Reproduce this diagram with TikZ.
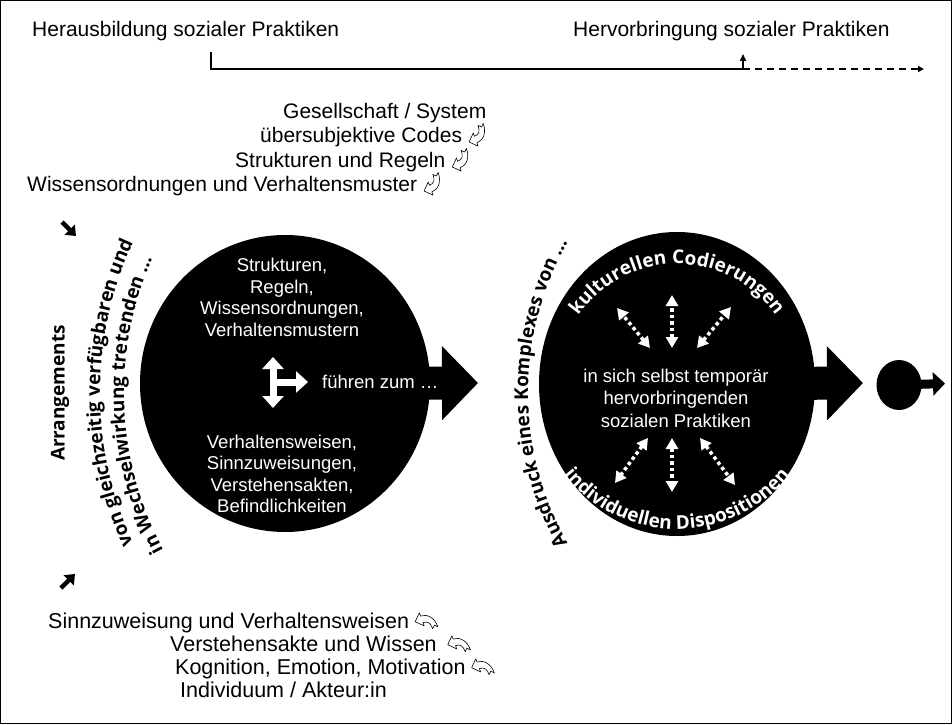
\documentclass[tikz,border=0pt]{standalone}
\usepackage{fontspec}
\setmainfont{Liberation Sans}
\newfontfamily\arcfont{Open Sans}
\usetikzlibrary{arrows.meta,shapes.geometric,decorations.text,calc}
\tikzset{codearrow/.pic={
		\draw[line width=0.6pt,fill=white,line join=round,scale=1.4] (-7,-2) -- (-2,3) -- (-2,0.5) .. controls (2,0.5) and (3,3) .. (3,7) -- (5,5) -- (7,7) .. controls (7,0) and (3,-4.5) .. (-2,-4.5) -- (-2,-7) -- cycle;
}}
\begin{document}
\begin{tikzpicture}[x=1pt,y=1pt,
	lbl/.style={anchor=base west,inner sep=0pt,font=\fontsize{21}{25}\selectfont},
	intext/.style={text=white,align=center,inner sep=0pt,font=\fontsize{18.5}{21.5}\selectfont},
	blob/.style={ellipse,fill=black,inner sep=0pt},
	blockarrow/.style={line width=33pt,-{Triangle[length=36pt,width=72pt]}},
	dotarrow/.style={white,line width=3.5pt,dash pattern=on 3.5pt off 3pt,{Triangle[length=11pt,width=12pt]}-{Triangle[length=11pt,width=12pt]}},
	curved/.style={decorate,decoration={text along path,text align=center,text={|\arcfont\bfseries\fontsize{19}{19}\selectfont|#1}}},
	curvedw/.style={decorate,decoration={text along path,text align=center,text={|\arcfont\bfseries\fontsize{19}{19}\selectfont\color{white}|#1}}}]
	\useasboundingbox (0,0) rectangle (952,724);
	\draw[line width=1.3pt] (0.65,0.65) rectangle (951.35,723.35);
	\node[lbl] (herausb) at (32,687) {Herausbildung sozialer Praktiken};
	\node[lbl] (hervorb) at (573,687) {Hervorbringung sozialer Praktiken};
	\coordinate (brStart) at (211,672);
	\coordinate (brTurn) at (743,655);
	\coordinate (brUp) at (743,670);
	\coordinate (brEnd) at (924,655);
	\draw[line width=1.6pt,-{Triangle[length=7pt,width=6pt]}] (brStart) |- (brTurn) -- (brUp);
	\draw[line width=1.6pt,dash pattern=on 7pt off 5pt,-{Triangle[length=6pt,width=6pt]}] (brTurn) -- (brEnd);
	\node[lbl] (gesell) at (283,605) {Gesellschaft / System};
	\node[lbl] (codes) at (260,581) {übersubjektive Codes};
	\node[lbl] (regeln) at (235,556) {Strukturen und Regeln};
	\node[lbl] (muster) at (27,532) {Wissensordnungen und Verhaltensmuster};
	\foreach \n in {codes,regeln,muster}{\pic[rotate=20] at ([xshift=15pt,yshift=7pt]\n.base east) {codearrow};}
	\node[lbl,font=\fontsize{21.5}{25}\selectfont] (sinn) at (48,96) {Sinnzuweisung und Verhaltensweisen};
	\node[lbl,font=\fontsize{21.5}{25}\selectfont] (verst) at (170,73) {Verstehensakte und Wissen};
	\node[lbl,font=\fontsize{21.5}{25}\selectfont] (kogn) at (175,50) {Kognition, Emotion, Motivation};
	\node[lbl,font=\fontsize{21.5}{25}\selectfont] (indiv) at (180,27) {Individuum / Akteur:in};
	\foreach \n/\d in {sinn/16,verst/21,kogn/16}{\pic[yscale=-1,rotate=-20] at ([xshift=\d pt,yshift=7pt]\n.base east) {codearrow};}
	\coordinate (swA) at (62,502);
	\coordinate (swB) at (76,488);
	\coordinate (neA) at (61,136);
	\coordinate (neB) at (75,150);
	\draw[line width=4.5pt,-{Triangle[length=9pt,width=14pt]}] (swA) -- (swB);
	\draw[line width=4.5pt,-{Triangle[length=9pt,width=14pt]}] (neA) -- (neB);
	\node[rotate=90,inner sep=0pt,font=\arcfont\bfseries\fontsize{19}{19}\selectfont] (arrang) at (60,331) {Arrangements};
	\coordinate (arcL) at (457,331);
	\path[curved={von gleichzeitig verfügbaren und}] ([shift={(215:357)}]arcL) arc[start angle=215,end angle=145,radius=357];
	\path[curved={in Wechselwirkung tretenden …}] ([shift={(217.2:333)}]arcL) arc[start angle=217.2,end angle=147.2,radius=333];
	\node[blob,minimum width=290pt,minimum height=297pt] (lell) at (285,340.5) {};
	\coordinate (tipA) at (478,341);
	\draw[blockarrow] (lell.center) -- (tipA);
	\node[intext] (lelltop) at (282,426.5) {Strukturen,\\Regeln,\\Wissensordnungen,\\Verhaltensmustern};
	\node[intext] (lellbot) at (282,250) {Verhaltensweisen,\\Sinnzuweisungen,\\Verstehensakten,\\Befindlichkeiten};
	\coordinate (tTop) at (273,367);
	\coordinate (tBot) at (273,316);
	\coordinate (tMid) at (270,342);
	\coordinate (tRight) at (308,342);
	\draw[white,line width=7pt,{Triangle[length=12pt,width=21pt]}-{Triangle[length=12pt,width=21pt]}] (tTop) -- (tBot);
	\draw[white,line width=7pt,-{Triangle[length=12pt,width=21pt]}] (tMid) -- (tRight);
	\node[intext,anchor=west] (fuehren) at (322,342) {führen zum …};
	\coordinate (arcR) at (833,331);
	\path[curved={Ausdruck eines Komplexes von …}] ([shift={(215:305)}]arcR) arc[start angle=215,end angle=145,radius=305];
	\node[blob,minimum width=276pt,minimum height=304pt] (rell) at (677,340) {};
	\coordinate (tipB) at (863,341);
	\draw[blockarrow] (rell.center) -- (tipB);
	\node[intext,font=\fontsize{18.5}{22.5}\selectfont] (rellmid) at (676,326) {in sich selbst temporär\\hervorbringenden\\sozialen Praktiken};
	\path[curvedw={kulturellen Codierungen}] ([shift={(165:120)}]rell.center) arc[start angle=165,end angle=15,radius=120];
	\path[curvedw={individuellen Dispositionen}] ([shift={(195:145)}]rell.center) arc[start angle=195,end angle=345,radius=145];
	\foreach \n/\xa/\ya/\xb/\yb in {tl/-27/36/-60/76,tm/-5/36/-5/89,tr/20/36/54/77,bl/-29/-54/-62/-99,bm/-5/-54/-5/-108,br/23/-54/58/-101}{
		\coordinate (s\n) at ([shift={(\xa,\ya)}]rell.center);
		\coordinate (e\n) at ([shift={(\xb,\yb)}]rell.center);
		\draw[dotarrow] (s\n) -- (e\n);
	}
	\node[blob,minimum width=45pt,minimum height=50pt] (dot) at (899,339) {};
	\coordinate (dotTip) at (945,340.5);
	\draw[line width=9pt,-{Triangle[length=12pt,width=23pt]}] (dot.center) -- (dotTip);
\end{tikzpicture}
\end{document}
